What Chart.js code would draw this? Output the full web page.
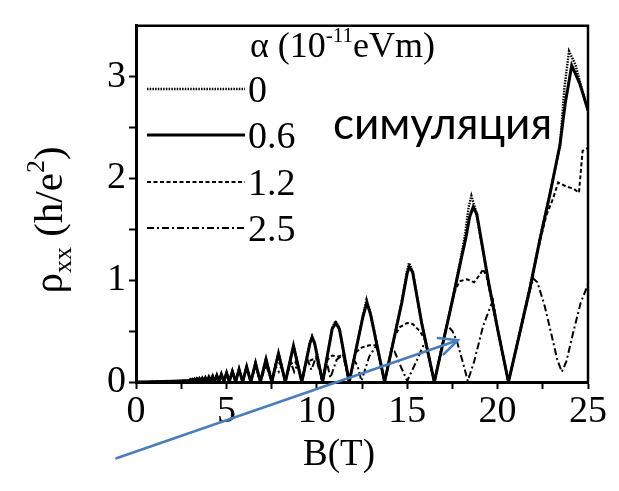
<!DOCTYPE html>
<html><head><meta charset="utf-8">
<script src="https://cdn.jsdelivr.net/npm/chart.js@4/dist/chart.umd.min.js"></script>
<style>html,body{margin:0;padding:0;background:#fff}canvas{display:block}</style>
</head><body>
<canvas id="c" width="619" height="491"></canvas>
<script>
// ---- data (B in T, rho_xx in h/e^2) ----
const alphaLabels = ['0', '0.6', '1.2', '2.5'];
const xTickValues = [0, 5, 10, 15, 20, 25];
const yTickValues = [0, 1, 2, 3];

// low-field part, shared by all alpha (curves overlap there)
const rhoLowField = [[0,0],[0.5,0.001],[1,0.002],[1.5,0.004],[2,0.007],[2.5,0.011],[2.8,0.013],[2.94,0.011],[3.0,0.022],[3.05,0.011],[3.11,0.024],[3.17,0.011],[3.24,0.026],[3.30,0.01],[3.37,0.029],[3.44,0.01],[3.51,0.032],[3.59,0.01],[3.67,0.036],[3.76,0.01],[3.84,0.04],[3.93,0.008],[4.03,0.047],[4.13,0.008],[4.24,0.055],[4.35,0.006],[4.47,0.065],[4.59,0.005],[4.72,0.077],[4.86,0.004],[5.01,0.09],[5.16,0.003],[5.33,0.105],[5.51,0.002],[5.70,0.125],[5.90,0.001],[6.12,0.15],[6.35,0]];

const rhoAlpha0 = [[6.61,0.19],[6.88,0],[7.19,0.23],[7.51,0],[7.88,0.29],[8.26,0],[8.71,0.36],[9.17,0],[9.62,0.39],[9.74,0.45],[9.88,0.39],[10.32,0],[10.85,0.53],[11.03,0.6],[11.25,0.53],[11.79,0],[12.55,0.65],[12.75,0.81],[12.98,0.67],[13.75,0],[14.2,0.37],[14.7,0.79],[15.0,1.1],[15.1,1.17],[15.3,1.09],[15.8,0.58],[16.5,0],[17.0,0.41],[17.5,0.81],[18.0,1.25],[18.2,1.45],[18.4,1.72],[18.55,1.83],[18.8,1.68],[19.5,0.98],[20.0,0.52],[20.6,0],[21.2,0.47],[21.8,0.94],[22.34,1.41],[22.9,1.86],[23.45,2.32],[23.7,2.9],[23.95,3.25],[24.3,3.12],[24.6,2.92],[25,2.67]];

const rhoAlpha06 = [[6.61,0.185],[6.88,0],[7.19,0.225],[7.51,0],[7.88,0.28],[8.26,0],[8.71,0.355],[9.17,0],[9.62,0.38],[9.74,0.44],[9.88,0.38],[10.32,0],[10.85,0.52],[11.05,0.58],[11.25,0.52],[11.79,0],[12.55,0.64],[12.77,0.78],[12.98,0.66],[13.75,0],[14.2,0.37],[14.7,0.78],[15.0,1.07],[15.12,1.13],[15.3,1.08],[15.8,0.58],[16.5,0],[17.0,0.40],[17.5,0.80],[18.0,1.22],[18.25,1.42],[18.45,1.62],[18.65,1.72],[18.85,1.65],[19.5,0.98],[20.0,0.52],[20.6,0],[21.2,0.46],[21.8,0.93],[22.34,1.40],[22.9,1.85],[23.45,2.33],[23.75,2.75],[24.1,3.11],[24.55,2.93],[25,2.67]];

const rhoAlpha12 = [[6.61,0.17],[6.88,0],[7.05,0.12],[7.25,0.17],[7.35,0.12],[7.51,0],[7.7,0.15],[7.95,0.19],[8.1,0.12],[8.26,0],[8.5,0.17],[8.8,0.2],[9.0,0.14],[9.17,0],[9.42,0.19],[9.75,0.22],[10.02,0.22],[10.32,0],[10.6,0.22],[10.85,0.26],[11.2,0.25],[11.45,0.27],[11.79,0],[12.15,0.29],[12.5,0.34],[12.9,0.36],[13.3,0.36],[13.75,0],[14.3,0.45],[14.6,0.54],[15.0,0.58],[15.3,0.57],[15.7,0.5],[15.96,0.42],[16.5,0],[17.0,0.40],[17.6,0.88],[17.9,0.99],[18.3,1.01],[18.7,0.98],[19.0,1.05],[19.2,1.11],[19.4,1.03],[20.0,0.52],[20.6,0],[21.2,0.46],[21.8,0.93],[22.34,1.38],[22.7,1.64],[23.06,1.8],[23.35,1.96],[23.8,1.92],[24.2,1.9],[24.5,1.86],[24.7,2.27],[25,2.3]];

const rhoAlpha25 = [[6.61,0.16],[6.88,0],[7.19,0.17],[7.51,0],[7.7,0.16],[7.9,0.1],[8.05,0.16],[8.26,0],[8.55,0.2],[8.75,0.1],[8.95,0.18],[9.17,0],[9.45,0.24],[9.7,0.12],[9.95,0.24],[10.32,0],[10.55,0.2],[10.75,0.04],[11.1,0.22],[11.45,0.27],[11.79,0],[12.05,0.22],[12.25,0.16],[12.47,0.01],[12.9,0.25],[13.3,0.36],[13.75,0],[14.1,0.3],[14.3,0.3],[14.65,0.15],[15.0,0.01],[15.5,0.2],[16.0,0.4],[16.5,0],[16.9,0.33],[17.2,0.56],[17.5,0.5],[17.75,0.4],[18.1,0.18],[18.35,0.01],[18.7,0.2],[19.2,0.55],[19.6,0.74],[19.75,0.8],[20.0,0.52],[20.6,0],[21.2,0.46],[21.95,1.02],[22.2,0.98],[22.6,0.75],[23.0,0.45],[23.3,0.22],[23.55,0.1],[23.8,0.2],[24.2,0.5],[24.6,0.78],[25,0.96]];

// arrow annotation, in data units (tail -> head)
const arrowTail = [-1.08, -0.75];
const arrowHead = [17.8, 0.41];

// ---- build ----
const toXY = arr => rhoLowField.concat(arr).map(p => ({x: p[0], y: p[1]}));
const seriesStyles = [
  {data: rhoAlpha0,  borderWidth: 2.4, borderDash: [1.5, 1.2]},
  {data: rhoAlpha06, borderWidth: 3, borderDash: []},
  {data: rhoAlpha12, borderWidth: 2, borderDash: [4, 2.5]},
  {data: rhoAlpha25, borderWidth: 2, borderDash: [7, 3, 2, 3]}
];
const datasets = seriesStyles.map((s, i) => ({
  label: alphaLabels[i],
  data: toXY(s.data),
  borderColor: '#000',
  borderWidth: s.borderWidth,
  borderDash: s.borderDash,
  pointRadius: 0,
  tension: 0,
  fill: false
}));

const SERIF = "'Liberation Serif', 'Times New Roman', serif";

const decor = {
  id: 'decor',
  beforeDraw(chart) {
    const c = chart.ctx;
    c.save(); c.fillStyle = '#fff'; c.fillRect(0, 0, chart.width, chart.height); c.restore();
  },
  afterDraw(chart) {
    const c = chart.ctx, a = chart.chartArea, xs = chart.scales.x, ys = chart.scales.y;
    c.save();
    // frame (top/right)
    c.strokeStyle = '#000'; c.lineWidth = 2.5;
    c.beginPath(); c.moveTo(a.left, a.top); c.lineTo(a.right, a.top); c.lineTo(a.right, a.bottom); c.stroke();

    c.fillStyle = '#000';
    c.textBaseline = 'alphabetic';
    // legend title
    let tx = 250, ty = 57;
    c.font = '36px ' + SERIF; c.textAlign = 'left';
    c.fillText('\u03B1 (10', tx, ty); tx += c.measureText('\u03B1 (10').width;
    c.font = '21px ' + SERIF; c.fillText('-11', tx, ty - 15); tx += c.measureText('-11').width;
    c.font = '36px ' + SERIF; c.fillText('eVm)', tx, ty);
    // legend rows
    const rowY = [89, 135, 182, 228];
    chart.data.datasets.forEach((ds, i) => {
      c.save();
      c.strokeStyle = '#000'; c.lineWidth = ds.borderWidth; c.setLineDash(ds.borderDash);
      c.beginPath(); c.moveTo(147, rowY[i]); c.lineTo(245, rowY[i]); c.stroke();
      c.restore();
      c.font = '38px ' + SERIF;
      c.fillText(ds.label, 248, rowY[i] + 13);
    });
    // y title
    c.save();
    c.translate(62, 220); c.rotate(-Math.PI / 2);
    const parts = [['\u03C1', 41, 0], ['xx', 26, 9], [' (h/e', 41, 0], ['2', 26, -18], [')', 41, 0]];
    let w = 0; parts.forEach(p => { c.font = p[1] + 'px ' + SERIF; w += c.measureText(p[0]).width; });
    let px = -w / 2;
    parts.forEach(p => { c.font = p[1] + 'px ' + SERIF; c.fillText(p[0], px, p[2]); px += c.measureText(p[0]).width; });
    c.restore();
    // x title
    c.font = '37px ' + SERIF; c.textAlign = 'center';
    c.fillText('B(T)', 339, 465);
    // annotation text
    c.font = '44px Lato, "Open Sans", sans-serif'; c.textAlign = 'left';
    c.fillText('симуляция', 333, 139);
    // arrow
    const x0 = xs.getPixelForValue(arrowTail[0]), y0 = ys.getPixelForValue(arrowTail[1]);
    const x1 = xs.getPixelForValue(arrowHead[0]), y1 = ys.getPixelForValue(arrowHead[1]);
    c.strokeStyle = '#4a7ebb'; c.lineWidth = 2.6; c.lineCap = 'round';
    c.beginPath(); c.moveTo(x0, y0); c.lineTo(x1, y1); c.stroke();
    const ang = Math.atan2(y1 - y0, x1 - x0), L = 20, sp = 0.45;
    c.beginPath();
    c.moveTo(x1 - L * Math.cos(ang - sp), y1 - L * Math.sin(ang - sp));
    c.lineTo(x1, y1);
    c.lineTo(x1 - L * Math.cos(ang + sp), y1 - L * Math.sin(ang + sp));
    c.stroke();
    c.restore();
  }
};

new Chart(document.getElementById('c'), {
  type: 'line',
  data: {datasets},
  options: {
    responsive: false,
    devicePixelRatio: 1,
    animation: false,
    events: [],
    layout: {padding: {left: 0, top: 7, right: 31, bottom: 0}},
    plugins: {legend: {display: false}, tooltip: {enabled: false}},
    scales: {
      x: {
        type: 'linear', min: 0, max: 25,
        afterFit(s) { s.height = 109; },
        border: {display: true, width: 3, color: '#000'},
        grid: {drawOnChartArea: false, drawTicks: true, tickLength: 7, tickWidth: 2, color: '#000'},
        ticks: {
          stepSize: 2.5, autoSkip: false, maxRotation: 0, padding: 0, color: '#000',
          font: {family: SERIF, size: 38},
          callback: v => xTickValues.includes(v) ? String(v) : ''
        }
      },
      y: {
        type: 'linear', min: 0, max: 3.5,
        afterFit(s) { s.width = 136; },
        border: {display: true, width: 3, color: '#000'},
        grid: {drawOnChartArea: false, drawTicks: true, tickLength: 7, tickWidth: 2,
               color: ctx => (ctx.tick && ctx.tick.value === 3.5) ? 'rgba(0,0,0,0)' : '#000'},
        ticks: {
          stepSize: 0.5, autoSkip: false, padding: 3, color: '#000',
          font: {family: SERIF, size: 38},
          callback: v => yTickValues.includes(v) ? String(v) : ''
        }
      }
    }
  },
  plugins: [decor]
});
</script>
</body></html>
